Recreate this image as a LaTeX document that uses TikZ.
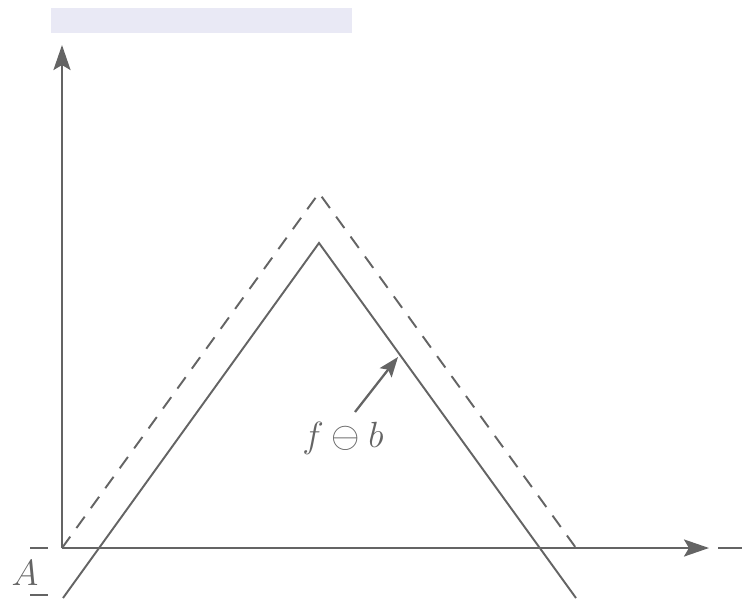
\documentclass[tikz,border=0pt]{standalone}
\usepackage{amsmath,amssymb}
\usepackage{xcolor}
\usetikzlibrary{arrows.meta, positioning}
\definecolor{inkgray}{RGB}{100,100,100}
\definecolor{markcol}{RGB}{233,233,245}

\begin{document}
\begin{tikzpicture}[x=0.2mm, y=-0.2mm, font=\fontsize{20}{24}\selectfont]
    \tikzstyle{axis} = [draw, inkgray, line width=1.5pt, -{Stealth[length=5mm, width=3.4mm, inset=1mm]}]
    \tikzstyle{curve} = [draw, inkgray, line width=1.1pt]
    \tikzstyle{shifted} = [curve, dash pattern=on 8pt off 6pt]
    \tikzstyle{tick} = [draw, inkgray, line width=0.9pt]
    \tikzstyle{line} = [draw, inkgray, line width=1.3pt, -{Stealth[length=4mm, width=3mm, inset=0.8mm]}]

    \useasboundingbox (0,0) rectangle (747,598);
    \fill[markcol] (51,8) rectangle (352,33);

    % axes
    \coordinate (origin) at (62,548);
    \coordinate (ytip) at (62,45);
    \coordinate (xtip) at (709,548);
    \path [axis] (origin) -- (ytip);
    \path [axis] (origin) -- (xtip);
    \coordinate (xrest1) at (718,548);
    \coordinate (xrest2) at (742,548);
    \path [tick] (xrest1) -- (xrest2);

    % f (dashed) and f minus b (solid)
    \coordinate (topF) at (319,193);
    \coordinate (endF) at (576,548);
    \path [shifted] (origin) -- (topF) -- (endF);
    \coordinate (startG) at (63,598);
    \coordinate (topG) at (319,243);
    \coordinate (endG) at (576,598);
    \path [curve] (startG) -- (topG) -- (endG);

    % level A
    \coordinate (tickA1) at (30,548);
    \coordinate (tickA2) at (48,548);
    \coordinate (tickB1) at (30,595);
    \coordinate (tickB2) at (48,595);
    \path [tick] (tickA1) -- (tickA2);
    \path [tick] (tickB1) -- (tickB2);
    \node [inkgray] (lvlA) at (25,573) {$A$};

    % label
    \node [inkgray] (lbl) at (343,438) {$f\ominus b$};
    \coordinate (tail) at (355,412);
    \coordinate (hit) at (398,357);
    \path [line] (tail) -- (hit);
\end{tikzpicture}
\end{document}
